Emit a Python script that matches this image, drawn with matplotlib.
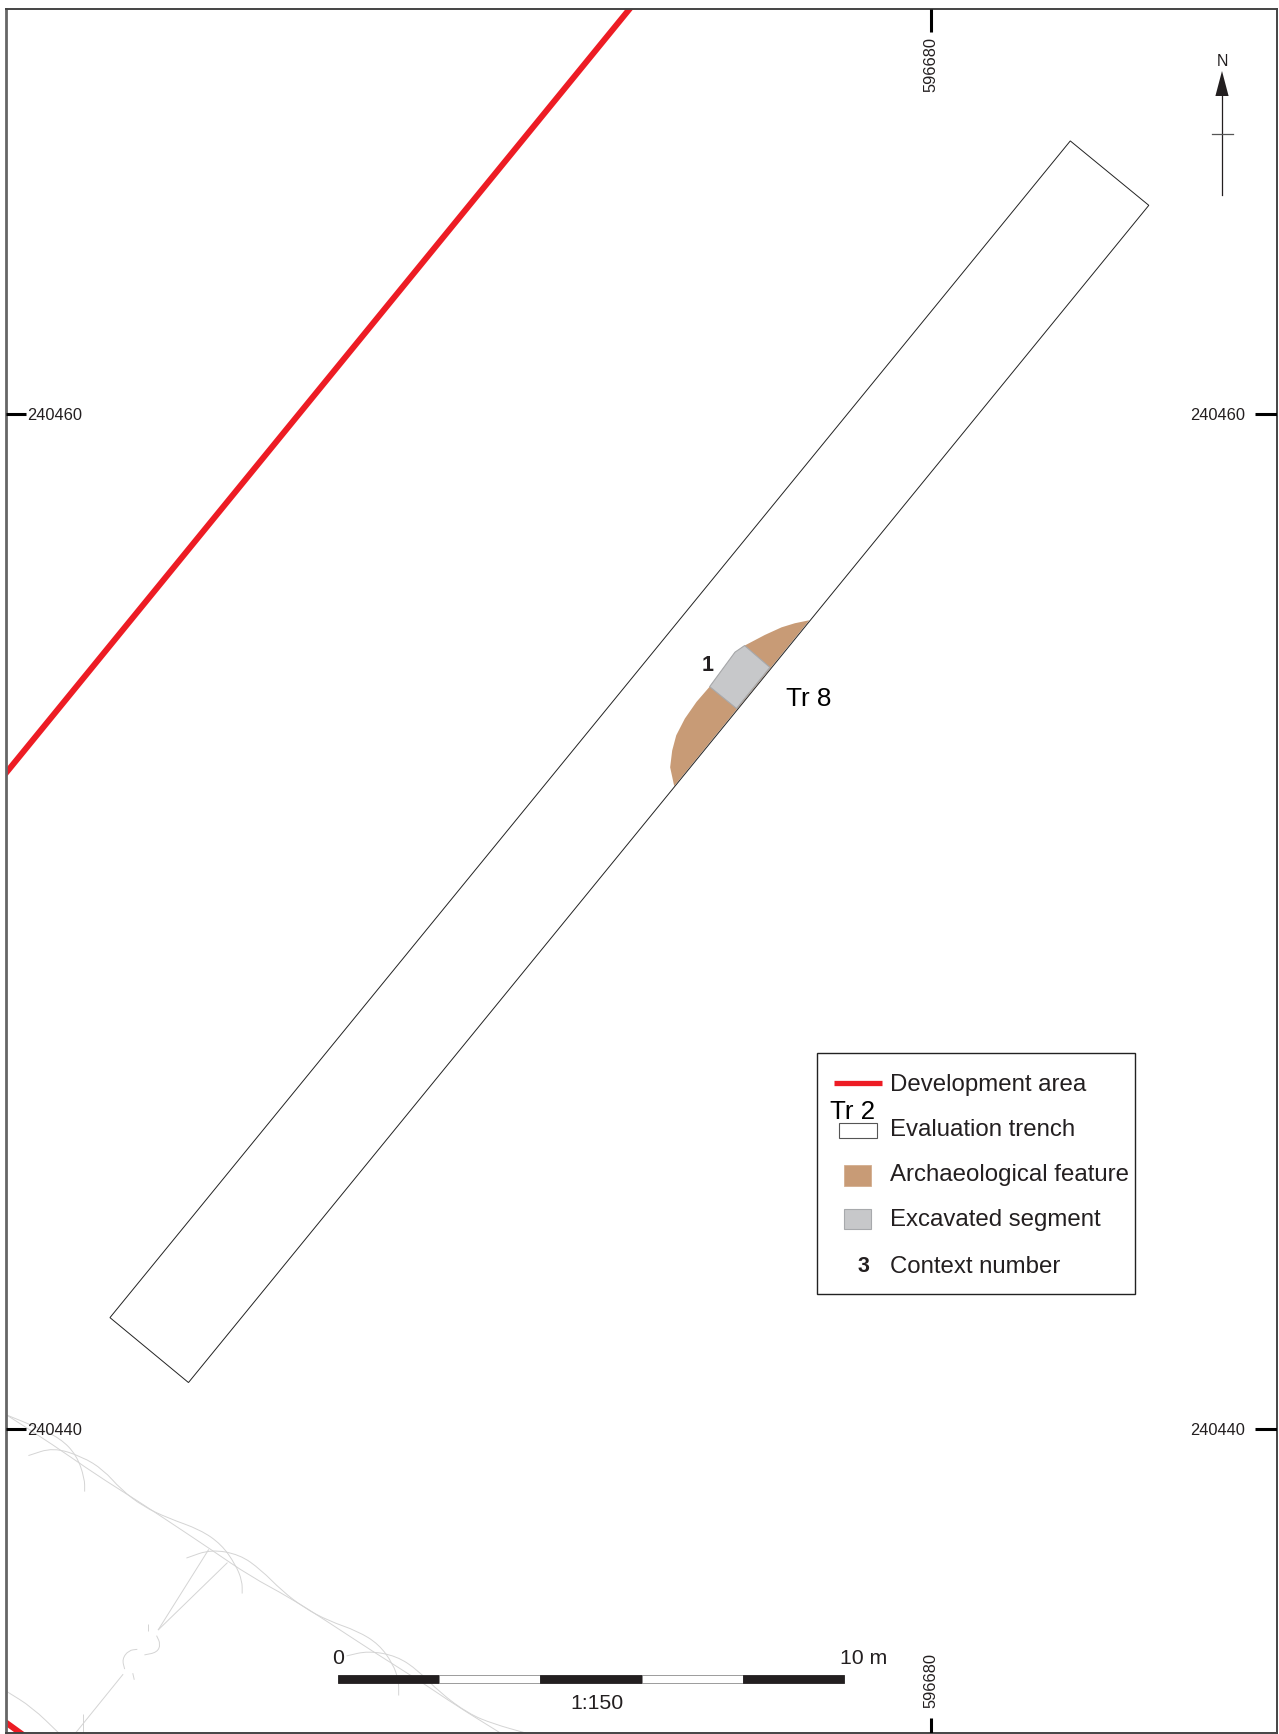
import numpy as np
import matplotlib
matplotlib.use("Agg")
import matplotlib.pyplot as plt
from matplotlib.path import Path
from matplotlib.patches import PathPatch

plt.rcParams['font.family'] = ['Liberation Sans', 'DejaVu Sans']

W, H = 1279, 1734
INK = '#231f20'
RED = '#ed1c24'
BROWN = '#c89b76'
GREY = '#c7c8ca'
CONTOUR = '#d4d4d4'

# grid origin, everything below is metres from here
E0 = 596680
N0 = 240460
PX_X = 50.65
PX_Y = 50.72
ORIGIN_PX = (931.0, 414.3)

easting_ticks = [596680]
northing_ticks = [240460, 240440]

trench_x = [2.75, 4.30, -14.66, -16.21]
trench_y = [5.39, 4.12, -19.09, -17.81]

dev_x = [-5.43, -18.76]
dev_y = [8.63, -7.68]
dev2_x = [-18.6, -17.7]
dev2_y = [-25.55, -26.2]

feature_x = [-2.40, -2.69, -2.95, -3.28, -3.68, -3.87, -4.37, -4.63, -4.86, -5.03, -5.11, -5.15, -5.07]
feature_y = [-4.06, -4.12, -4.20, -4.35, -4.56, -4.69, -5.37, -5.67, -6.00, -6.33, -6.63, -6.96, -7.33]

segment_x = [-3.68, -3.87, -4.37, -3.84, -3.18]
segment_y = [-4.56, -4.69, -5.37, -5.80, -4.99]

# background survey linework (bottom left)
contours = [
    ([-18.25, -17.33, -16.48, -15.70, -15.00, -14.22, -13.44, -12.66, -11.89, -11.04, -10.05, -9.42, -8.50],
     [-19.73, -20.32, -20.91, -21.40, -21.86, -22.38, -22.91, -23.33, -23.82, -24.38, -25.00, -25.43, -26.00]),
    ([-17.82, -17.33, -16.76, -16.34, -15.99, -15.56, -15.07, -14.43, -14.01, -13.73, -13.60, -13.60],
     [-20.53, -20.37, -20.55, -20.81, -21.20, -21.53, -21.76, -21.99, -22.28, -22.68, -23.00, -23.25]),
    ([-14.70, -14.22, -13.65, -13.23, -12.81, -12.38, -11.89, -11.32, -10.90, -10.62, -10.51, -10.51],
     [-22.55, -22.38, -22.48, -22.78, -23.20, -23.53, -23.79, -23.99, -24.25, -24.64, -24.97, -25.26]),
    ([-11.54, -11.11, -10.55, -10.12, -9.70, -9.13, -8.64, -8.00],
     [-24.48, -24.38, -24.48, -24.77, -25.20, -25.62, -25.82, -26.00]),
    ([-18.25, -17.68, -17.19, -16.87, -16.71, -16.71],
     [-19.73, -19.96, -20.19, -20.52, -20.98, -21.24]),
    ([-18.25, -17.75, -17.22], [-25.18, -25.49, -26.00]),
    ([-16.75, -16.75], [-25.62, -26.00]),
    ([-14.26, -15.26], [-22.38, -23.97]),
    ([-15.26, -13.89], [-23.97, -22.64]),
    ([-15.95, -16.89], [-24.84, -26.00]),
    ([-15.29, -15.21, -15.28, -15.53], [-24.08, -24.25, -24.41, -24.46]),
    ([-15.67, -15.84, -15.97, -15.92], [-24.35, -24.37, -24.54, -24.74]),
    ([-15.46, -15.46], [-23.86, -23.99]),
    ([-15.76, -15.73], [-24.82, -24.95]),
]

scale_edges = [0, 2, 4, 6, 8, 10]
scale_colors = [INK, 'white', INK, 'white', INK]
legend_labels = ['Development area', 'Evaluation trench', 'Archaeological feature',
                 'Excavated segment', 'Context number']


def smooth_path(xs, ys):
    # quadratic curve through the midpoints, keeps the survey lines from looking jagged
    pts = np.column_stack([xs, ys])
    if len(pts) < 3:
        return Path(pts)
    mids = (pts[:-1] + pts[1:]) / 2
    verts = [pts[0], mids[0]]
    codes = [Path.MOVETO, Path.LINETO]
    for p, m in zip(pts[1:-1], mids[1:]):
        verts += [p, m]
        codes += [Path.CURVE3, Path.CURVE3]
    verts.append(pts[-1])
    codes.append(Path.LINETO)
    return Path(verts, codes)


fig = plt.figure(figsize=(W / 100, H / 100), dpi=100, facecolor='white')

# frame in pixels
left, right, top, bottom = 6, 1277, 8.5, 1733
ax = fig.add_axes([left / W, 1 - bottom / H, (right - left) / W, (bottom - top) / H])
ax.set_xlim(E0 + (left - ORIGIN_PX[0]) / PX_X, E0 + (right - ORIGIN_PX[0]) / PX_X)
ax.set_ylim(N0 + (ORIGIN_PX[1] - bottom) / PX_Y, N0 + (ORIGIN_PX[1] - top) / PX_Y)
ax.set_xticks([])
ax.set_yticks([])
for side, spine in ax.spines.items():
    spine.set_color('#444444')
    spine.set_linewidth(1.4)
ax.spines['left'].set_color('#666666')
ax.spines['left'].set_linewidth(2.0)

e = lambda v: E0 + np.array(v)
n = lambda v: N0 + np.array(v)

for cx, cy in contours:
    ax.add_patch(PathPatch(smooth_path(e(cx), n(cy)), facecolor='none', edgecolor=CONTOUR, lw=0.7, zorder=1))

ax.plot(e(dev_x), n(dev_y), color=RED, lw=4.3, zorder=2, solid_capstyle='butt')
ax.plot(e(dev2_x), n(dev2_y), color=RED, lw=4.3, zorder=2, solid_capstyle='butt')

ax.fill(e(feature_x), n(feature_y), color=BROWN, lw=0, zorder=3)
ax.fill(e(segment_x), n(segment_y), facecolor=GREY, edgecolor='#a7a9ac', lw=0.8, zorder=4)
ax.fill(e(trench_x), n(trench_y), facecolor='none', edgecolor='#222222', lw=0.7, zorder=5)

# grid ticks, pointing inward from the frame
yt = ax.get_yaxis_transform()
xt = ax.get_xaxis_transform()
fw, fh = right - left, bottom - top
nudge = 1.5 / PX_Y
for nv in northing_ticks:
    ax.plot([0, 20 / fw], [nv, nv], transform=yt, color='black', lw=2.2, solid_capstyle='butt', zorder=6)
    ax.plot([1 - 22 / fw, 1], [nv, nv], transform=yt, color='black', lw=2.2, solid_capstyle='butt', zorder=6)
    ax.text(21 / fw, nv - nudge, str(nv), transform=yt, ha='left', va='center', fontsize=11.8, color=INK, zorder=6)
    ax.text(1 - 32 / fw, nv - nudge, str(nv), transform=yt, ha='right', va='center', fontsize=11.8, color=INK, zorder=6)
for ev in easting_ticks:
    ax.plot([ev, ev], [1 - 23 / fh, 1], transform=xt, color='black', lw=2.2, solid_capstyle='butt', zorder=6)
    ax.plot([ev, ev], [0, 15 / fh], transform=xt, color='black', lw=2.2, solid_capstyle='butt', zorder=6)
    ax.text(ev, 1 - 28 / fh, str(ev), transform=xt, rotation=90, ha='center', va='top', fontsize=11.8, color=INK, zorder=6)
    ax.text(ev, 25 / fh, str(ev), transform=xt, rotation=90, ha='center', va='bottom', fontsize=11.8, color=INK, zorder=6)

# trench labels
ax.text(E0 - 4.41, N0 - 4.95, '1', ha='center', va='center', fontsize=15.5, fontweight='bold', color=INK, zorder=7)
ax.text(E0 - 2.42, N0 - 5.62, 'Tr 8', ha='center', va='center', fontsize=18.8, color='black', zorder=7)

# scale bar, drawn in map units
bar_y = N0 - 24.93
for a, b, c in zip(scale_edges[:-1], scale_edges[1:], scale_colors):
    ax.barh(bar_y, b - a, left=E0 - 11.71 + a, height=0.16, color=c, edgecolor=INK if c == INK else '#8c8c8c',
            lw=0.6, zorder=6)

# page furniture in pixel coordinates
ov = fig.add_axes([0, 0, 1, 1])
ov.set_xlim(0, W)
ov.set_ylim(H, 0)
ov.axis('off')
ov.patch.set_alpha(0)

ov.text(338.5, 1659, '0', ha='center', va='center', fontsize=15.3, color=INK)
ov.text(864, 1659, '10 m', ha='center', va='center', fontsize=15.3, color=INK)
ov.text(596.5, 1703.5, '1:150', ha='center', va='center', fontsize=15.3, color=INK)

# legend
ov.add_patch(plt.Rectangle((817.4, 1053), 318, 241, facecolor='white', edgecolor='#222222', lw=1.0, zorder=2))
ov.plot([834, 881.5], [1083, 1083], color=RED, lw=3.8, solid_capstyle='butt', zorder=3)
ov.add_patch(plt.Rectangle((838.5, 1122.5), 38.5, 15.5, facecolor='white', edgecolor='#555555', lw=0.8, zorder=3))
ov.add_patch(plt.Rectangle((844, 1165), 26.6, 21, facecolor=BROWN, edgecolor='#d3ae8e', lw=0.6, zorder=3))
ov.add_patch(plt.Rectangle((844, 1209), 26.6, 20, facecolor=GREY, edgecolor='#a7a9ac', lw=0.8, zorder=3))
ov.text(863, 1266.5, '3', ha='center', va='center', fontsize=15.5, fontweight='bold', color=INK, zorder=3)
for label, y in zip(legend_labels, [1085, 1130, 1175, 1220, 1267]):
    ov.text(890, y, label, ha='left', va='center', fontsize=17.3, color=INK, zorder=3)
ov.text(852, 1112, 'Tr 2', ha='center', va='center', fontsize=18.6, color='black', zorder=4)

# north arrow
ov.plot([1222, 1222], [96, 195], color=INK, lw=0.9, zorder=3)
ov.plot([1212, 1232.5], [134, 134], color='#555555', lw=0.9, zorder=3)
ov.fill([1222, 1215.4, 1228.6], [71, 96, 96], color=INK, lw=0, zorder=3)
ov.text(1222, 61, 'N', ha='center', va='center', fontsize=11.5, color=INK, zorder=3)

fig.savefig('out.png', dpi=100, facecolor='white')
